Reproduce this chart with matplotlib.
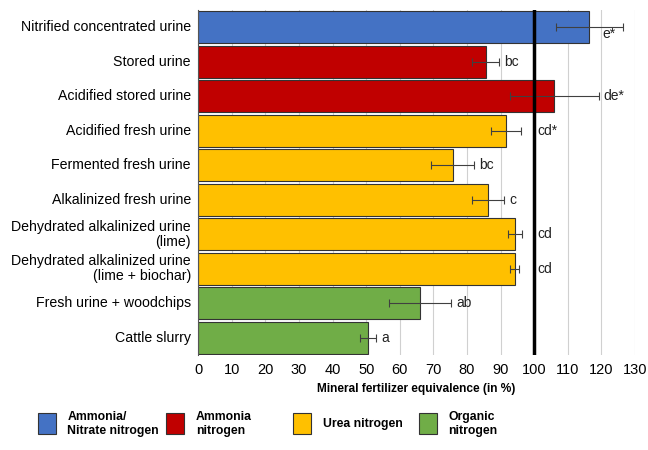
import matplotlib.pyplot as plt
from matplotlib.patches import Rectangle
from matplotlib.transforms import blended_transform_factory

plt.rcParams['font.family'] = ['Liberation Sans', 'DejaVu Sans']

treatments = ['Nitrified concentrated urine', 'Stored urine', 'Acidified stored urine',
              'Acidified fresh urine', 'Fermented fresh urine', 'Alkalinized fresh urine',
              'Dehydrated alkalinized urine\n(lime)', 'Dehydrated alkalinized urine\n(lime + biochar)',
              'Fresh urine + woodchips', 'Cattle slurry']
mfe = [116.4, 85.5, 106.0, 91.6, 75.7, 86.3, 94.3, 94.2, 66.1, 50.6]
err = [10.0, 4.0, 13.2, 4.6, 6.4, 4.8, 2.1, 1.3, 9.2, 2.4]
letters = ['e*', 'bc', 'de*', 'cd*', 'bc', 'c', 'cd', 'cd', 'ab', 'a']
groups = ['nitrate', 'ammonia', 'ammonia', 'urea', 'urea', 'urea', 'urea', 'urea', 'organic', 'organic']

group_names = ['nitrate', 'ammonia', 'urea', 'organic']
group_labels = ['Ammonia/\nNitrate nitrogen', 'Ammonia\nnitrogen', 'Urea nitrogen', 'Organic\nnitrogen']
colors = {'nitrate': '#4472C4', 'ammonia': '#C00000', 'urea': '#FFC000', 'organic': '#70AD47'}

fig = plt.figure(figsize=(6.48, 4.5), dpi=100)
ax = fig.add_axes([0.306, 0.211, 0.674, 0.767])

y = list(range(len(treatments)))
ax.barh(y, mfe, height=0.92, color=[colors[g] for g in groups], edgecolor='#333333',
        linewidth=0.8, zorder=2)
ax.errorbar(mfe, y, xerr=err, fmt='none', ecolor='#404040', elinewidth=0.8,
            capsize=3, capthick=0.8, zorder=3)

for i in y:
    hi = mfe[i] + err[i]
    x = hi + 1.5
    dy = 0
    if 95 < x < 101:
        x = 100.8
    if i == 0:
        x = hi - 6
        dy = 0.2
    ax.text(x, i + dy, letters[i], va='center', ha='left', fontsize=10, color='#222222', zorder=4)

ax.axvline(100, color='black', linewidth=2.5, zorder=4)

ax.set_xlim(0, 130)
ax.set_ylim(len(treatments) - 0.5, -0.5)
ax.set_xticks(range(0, 131, 10))
ax.set_yticks(y)
ax.set_yticklabels([])
# category labels, right aligned line by line
trans = blended_transform_factory(ax.transAxes, ax.transData)
for i, name in zip(y, treatments):
    ax.text(-0.017, i, name, transform=trans, ha='right', va='center', multialignment='right',
            fontsize=10.2, linespacing=1.05)
ax.tick_params(axis='x', labelsize=10.5, length=0, pad=6)
ax.tick_params(axis='y', length=0)
ax.grid(axis='x', color='#D0D0D0', linewidth=0.8, zorder=0)
for s in ['top', 'right', 'bottom']:
    ax.spines[s].set_visible(False)
ax.spines['left'].set_color('#555555')
ax.set_xlabel('Mineral fertilizer equivalence (in %)', fontsize=8.6, fontweight='bold', labelpad=4)

# legend drawn by hand
legend_x = [0.058, 0.256, 0.452, 0.646]
for gx, g, lab in zip(legend_x, group_names, group_labels):
    fig.patches.append(Rectangle((gx, 0.035), 0.028, 0.048, transform=fig.transFigure,
                                 facecolor=colors[g], edgecolor='#333333', linewidth=0.8))
    fig.text(gx + 0.046, 0.058, lab, fontsize=8.8, fontweight='bold', va='center', ha='left',
             linespacing=1.3)

fig.savefig('out.png', dpi=100)
